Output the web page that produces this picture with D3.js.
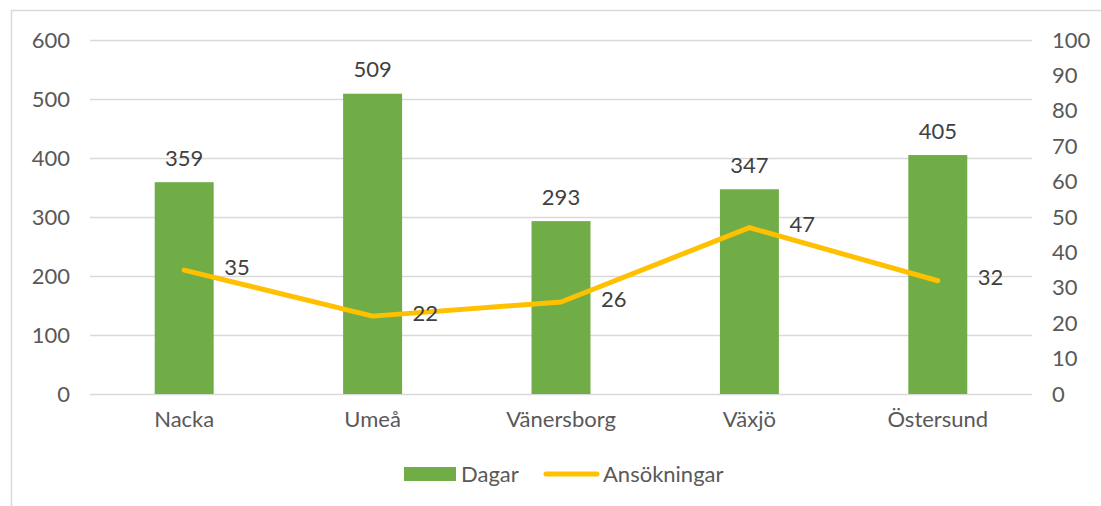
<!DOCTYPE html>
<html>
<head>
<meta charset="utf-8">
<script src="https://cdn.jsdelivr.net/npm/d3@7"></script>
<style>
  body { margin: 0; background: #fff; }
  svg { display: block; font-family: Lato, "Open Sans", sans-serif; }
</style>
</head>
<body>
<svg id="chart" width="1101" height="506"></svg>
<script>
const categories = ['Nacka', 'Umeå', 'Vänersborg', 'Växjö', 'Östersund']
const dagar = [359, 509, 293, 347, 405]
const ansokningar = [35, 22, 26, 47, 32]
const leftTicks = [0, 100, 200, 300, 400, 500, 600]
const rightTicks = [0, 10, 20, 30, 40, 50, 60, 70, 80, 90, 100]

const svg = d3.select('#chart')

// chart frame (only top and left edges show in the crop)
svg.append('path')
  .attr('d', 'M11.5,506 V10.5 H1101')
  .attr('fill', 'none')
  .attr('stroke', '#d9d9d9')
  .attr('stroke-width', 1.5)

const x = d3.scaleBand()
  .domain(categories)
  .range([90, 1032])
  .paddingInner(0.687)
  .paddingOuter(0.3435)

const yLeft = d3.scaleLinear().domain([0, 600]).range([394, 40])
const yRight = d3.scaleLinear().domain([0, 100]).range([394, 40])

// gridlines
svg.append('g')
  .selectAll('line')
  .data(leftTicks)
  .enter()
  .append('line')
  .attr('x1', 90)
  .attr('x2', 1032)
  .attr('y1', d => Math.round(yLeft(d)) + 0.5)
  .attr('y2', d => Math.round(yLeft(d)) + 0.5)
  .attr('stroke', '#d9d9d9')
  .attr('stroke-width', 1.5)

// left axis
const leftAxis = svg.append('g')
  .attr('transform', 'translate(70,0)')
  .call(d3.axisLeft(yLeft).tickValues(leftTicks).tickSize(0).tickPadding(0))
leftAxis.select('.domain').remove()
leftAxis.selectAll('text')
  .attr('font-size', 22)
  .attr('font-family', 'Lato, sans-serif')
  .attr('fill', '#595959')

// right axis
const rightAxis = svg.append('g')
  .attr('transform', 'translate(1052,0)')
  .call(d3.axisRight(yRight).tickValues(rightTicks).tickSize(0).tickPadding(0))
rightAxis.select('.domain').remove()
rightAxis.selectAll('text')
  .attr('font-size', 22)
  .attr('font-family', 'Lato, sans-serif')
  .attr('fill', '#595959')

// category axis
const bottomAxis = svg.append('g')
  .attr('transform', 'translate(0,394)')
  .call(d3.axisBottom(x).tickSize(0).tickPadding(17))
bottomAxis.select('.domain').remove()
bottomAxis.selectAll('text')
  .attr('font-size', 22)
  .attr('font-family', 'Lato, sans-serif')
  .attr('fill', '#595959')

// bars
svg.append('g')
  .selectAll('rect')
  .data(dagar)
  .enter()
  .append('rect')
  .attr('x', (d, i) => x(categories[i]))
  .attr('width', x.bandwidth())
  .attr('y', d => yLeft(d))
  .attr('height', d => yLeft(0) - yLeft(d))
  .attr('fill', '#70ad47')

// bar labels
svg.append('g')
  .selectAll('text')
  .data(dagar)
  .enter()
  .append('text')
  .attr('x', (d, i) => x(categories[i]) + x.bandwidth() / 2)
  .attr('y', d => yLeft(d) - 24)
  .attr('dy', '0.35em')
  .attr('text-anchor', 'middle')
  .attr('font-size', 22)
  .attr('fill', '#404040')
  .text(d => d)

// line
const cx = (d, i) => x(categories[i]) + x.bandwidth() / 2
const line = d3.line()
  .x(cx)
  .y(d => yRight(d))

svg.append('path')
  .datum(ansokningar)
  .attr('d', line)
  .attr('fill', 'none')
  .attr('stroke', '#ffc000')
  .attr('stroke-width', 5)
  .attr('stroke-linejoin', 'round')
  .attr('stroke-linecap', 'round')

// line labels
svg.append('g')
  .selectAll('text')
  .data(ansokningar)
  .enter()
  .append('text')
  .attr('x', (d, i) => cx(d, i) + 40)
  .attr('y', d => yRight(d) - 3)
  .attr('dy', '0.35em')
  .attr('font-size', 22)
  .attr('fill', '#404040')
  .text(d => d)

// legend
const legend = svg.append('g')
legend.append('rect')
  .attr('x', 404)
  .attr('y', 467)
  .attr('width', 52)
  .attr('height', 14)
  .attr('fill', '#70ad47')
legend.append('text')
  .attr('x', 461)
  .attr('y', 474)
  .attr('dy', '0.35em')
  .attr('font-size', 22)
  .attr('fill', '#595959')
  .text('Dagar')
legend.append('line')
  .attr('x1', 546)
  .attr('x2', 597)
  .attr('y1', 474)
  .attr('y2', 474)
  .attr('stroke', '#ffc000')
  .attr('stroke-width', 5)
  .attr('stroke-linecap', 'round')
legend.append('text')
  .attr('x', 603)
  .attr('y', 474)
  .attr('dy', '0.35em')
  .attr('font-size', 22)
  .attr('fill', '#595959')
  .text('Ansökningar')
</script>
</body>
</html>
